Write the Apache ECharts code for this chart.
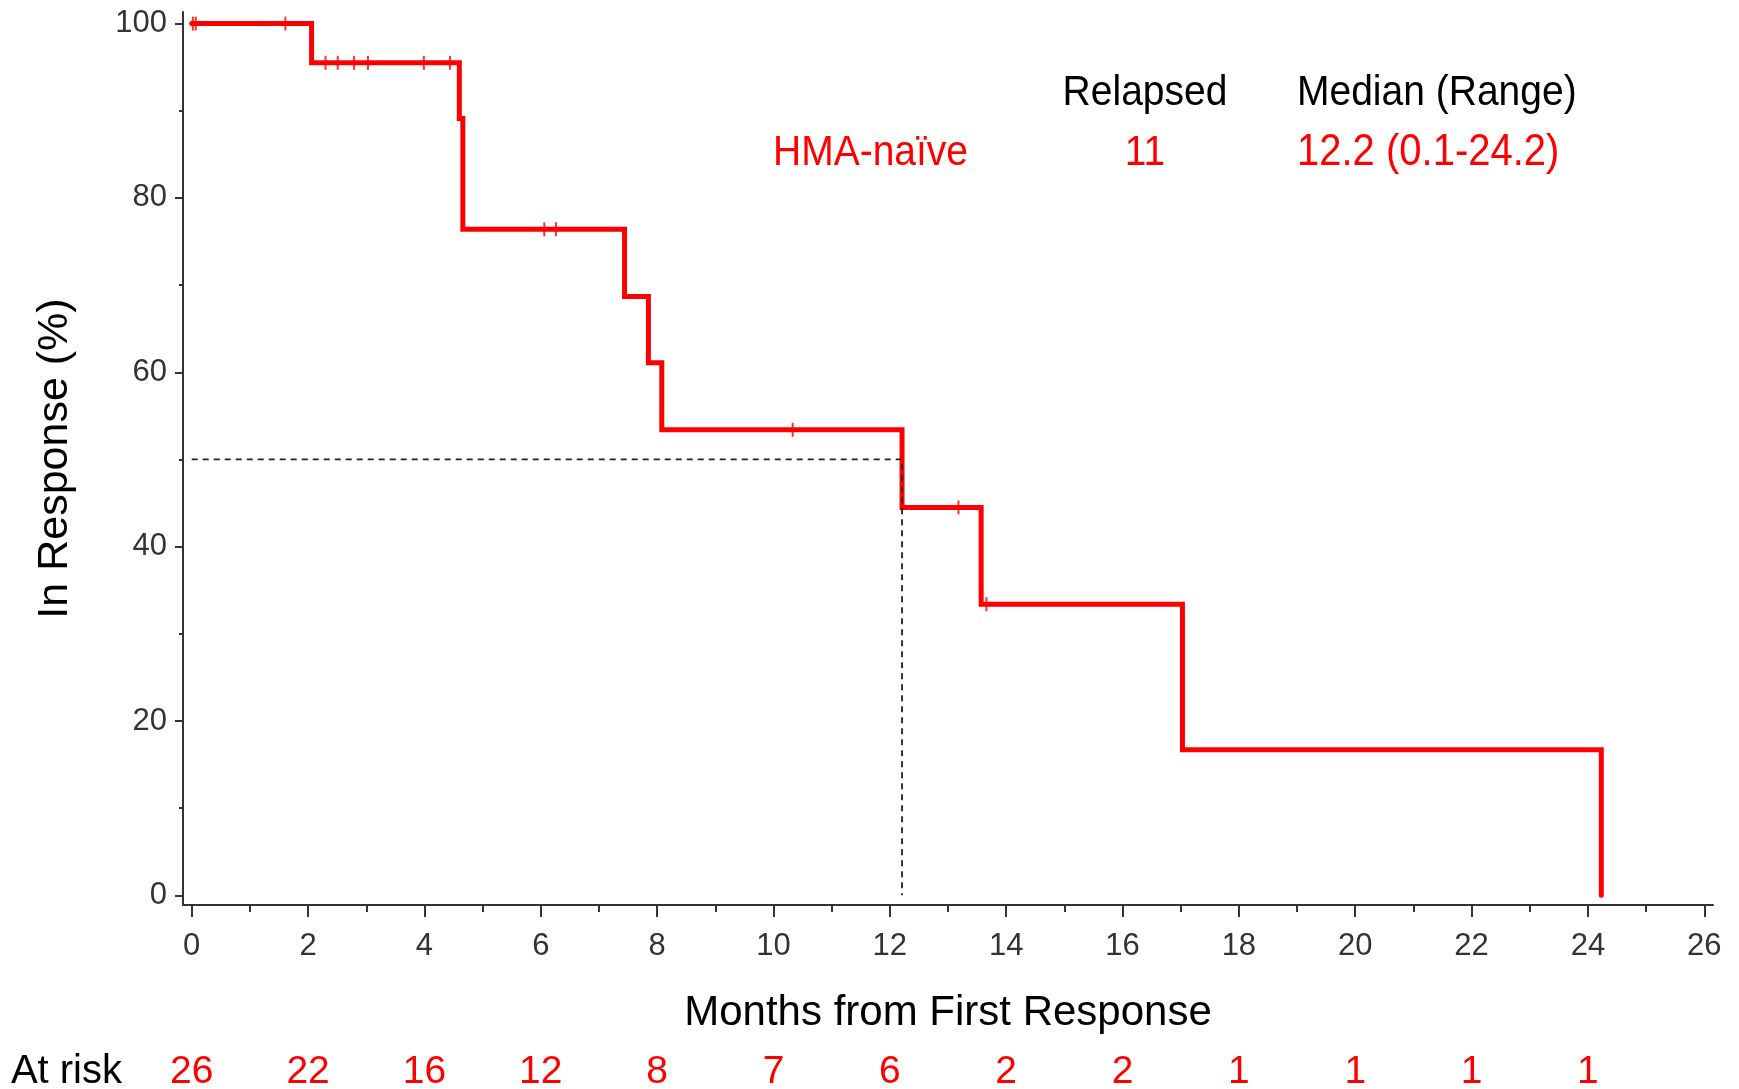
<!DOCTYPE html>
<html><head><meta charset="utf-8">
<script src="https://cdn.jsdelivr.net/npm/echarts@6/dist/echarts.min.js"></script>
<style>html,body{margin:0;padding:0;background:#fff}#c{width:1739px;height:1089px}</style>
</head><body><div id="c"></div>
<script>
// ---- data ----
const stepTimes = [0, 2.06, 4.60, 4.66, 7.44, 7.85, 8.08, 12.21, 13.57, 17.03, 24.23];
const stepSurv  = [100, 95.5, 89.1, 76.4, 68.7, 61.1, 53.4, 44.5, 33.4, 16.7, 0];
const censorTimes = [0.02, 0.07, 1.61, 2.30, 2.51, 2.79, 3.03, 3.99, 4.44, 6.06, 6.26, 10.33, 13.18, 13.66];
const censorSurv  = [100, 100, 100, 95.5, 95.5, 95.5, 95.5, 95.5, 95.5, 76.4, 76.4, 53.4, 44.5, 33.4];
const medianTime = 12.21;
const medianLevel = 50;
const xMajorTicks = [0, 2, 4, 6, 8, 10, 12, 14, 16, 18, 20, 22, 24, 26];
const xMinorTicks = [1, 3, 5, 7, 9, 11, 13, 15, 17, 19, 21, 23, 25];
const yMajorTicks = [0, 20, 40, 60, 80, 100];
const yMinorTicks = [10, 30, 50, 70, 90];
const atRiskTimes  = [0, 2, 4, 6, 8, 10, 12, 14, 16, 18, 20, 22, 24];
const atRiskCounts = [26, 22, 16, 12, 8, 7, 6, 2, 2, 1, 1, 1, 1];
const tableHeaders = ['Relapsed', 'Median (Range)'];
const groupName = 'HMA-naïve';
const groupRelapsed = '11';
const groupMedian = '12.2 (0.1-24.2)';
const xTitle = 'Months from First Response';
const yTitle = 'In Response (%)';
const atRiskTitle = 'At risk';

// ---- chart ----
const FONT = "'Liberation Sans', Arial, sans-serif";
const RED = '#ff0000';
const AX = '#333333';
const chart = echarts.init(document.getElementById('c'), null, {renderer: 'canvas'});

const stepData = stepTimes.map((t, i) => [t, stepSurv[i]]);
const censorData = censorTimes.map((t, i) => [t, censorSurv[i]]);
const medianData = [[0, medianLevel], [medianTime, medianLevel], [medianTime, 0]];

chart.setOption({
  animation: false,
  backgroundColor: '#fff',
  grid: {left: 183, right: 26, top: 12, bottom: 184, containLabel: false, outerBoundsMode: 'none'},
  xAxis: [
    {
      type: 'value', position: 'bottom', min: -0.15, max: 26.15,
      axisLine: {show: true, onZero: false, lineStyle: {color: AX, width: 2}},
      axisTick: {show: true, inside: false, length: 12, lineStyle: {color: AX, width: 2}, customValues: xMajorTicks},
      axisLabel: {show: true, customValues: xMajorTicks, margin: 26, color: AX, fontFamily: FONT, fontSize: 31},
      splitLine: {show: false},
      name: xTitle, nameLocation: 'middle', nameGap: 87,
      nameTextStyle: {color: '#000', fontFamily: FONT, fontSize: 42}
    },
    {
      type: 'value', position: 'bottom', min: -0.15, max: 26.15,
      axisLine: {show: false, onZero: false},
      axisTick: {show: true, inside: false, length: 7, lineStyle: {color: AX, width: 2}, customValues: xMinorTicks},
      axisLabel: {show: false}, splitLine: {show: false}
    },
    {
      type: 'value', position: 'bottom', min: -0.15, max: 26.15, offset: 167,
      axisLine: {show: false, onZero: false},
      axisTick: {show: false},
      axisLabel: {
        show: true, customValues: atRiskTimes, margin: 0, verticalAlign: 'middle',
        color: RED, fontFamily: FONT, fontSize: 39,
        formatter: v => String(atRiskCounts[atRiskTimes.indexOf(v)])
      },
      splitLine: {show: false},
      name: atRiskTitle, nameLocation: 'start', nameGap: 61,
      nameTextStyle: {color: '#000', fontFamily: FONT, fontSize: 40, verticalAlign: 'middle'}
    }
  ],
  yAxis: [
    {
      type: 'value', position: 'left', min: -1.11, max: 101.33,
      axisLine: {show: true, onZero: false, lineStyle: {color: AX, width: 2}},
      axisTick: {show: true, inside: false, length: 8, lineStyle: {color: AX, width: 2}, customValues: yMajorTicks},
      axisLabel: {show: true, customValues: yMajorTicks, margin: 16, color: AX, fontFamily: FONT, fontSize: 31},
      splitLine: {show: false},
      name: yTitle, nameLocation: 'middle', nameGap: 106, nameRotate: 90,
      nameTextStyle: {color: '#000', fontFamily: FONT, fontSize: 43}
    },
    {
      type: 'value', position: 'left', min: -1.11, max: 101.33,
      axisLine: {show: false, onZero: false},
      axisTick: {show: true, inside: false, length: 4, lineStyle: {color: AX, width: 2}, customValues: yMinorTicks},
      axisLabel: {show: false}, splitLine: {show: false}
    }
  ],
  series: [
    {
      type: 'line', xAxisIndex: 0, yAxisIndex: 0, step: 'end', data: stepData,
      showSymbol: false, symbol: 'none', z: 3,
      lineStyle: {color: RED, width: 5, join: 'miter', cap: 'round'}
    },
    {
      type: 'scatter', xAxisIndex: 0, yAxisIndex: 0, data: censorData,
      symbol: 'rect', symbolSize: [2, 14], z: 4,
      itemStyle: {color: RED}
    },
    {
      type: 'line', xAxisIndex: 0, yAxisIndex: 0, data: medianData,
      showSymbol: false, symbol: 'none', z: 5,
      lineStyle: {color: '#222', width: 1.8, type: [6, 5]}
    }
  ],
  graphic: [
    {type: 'text', x: 1145, y: 93, scaleY: 1.1, style: {text: tableHeaders[0], align: 'center', verticalAlign: 'middle', fill: '#000', font: '39px ' + FONT}},
    {type: 'text', x: 1297, y: 93, scaleY: 1.1, style: {text: tableHeaders[1], align: 'left', verticalAlign: 'middle', fill: '#000', font: '39px ' + FONT}},
    {type: 'text', x: 773, y: 153, scaleY: 1.1, style: {text: groupName, align: 'left', verticalAlign: 'middle', fill: RED, font: '39px ' + FONT}},
    {type: 'text', x: 1145, y: 153, scaleY: 1.1, style: {text: groupRelapsed, align: 'center', verticalAlign: 'middle', fill: RED, font: '39px ' + FONT}},
    {type: 'text', x: 1297, y: 153, scaleY: 1.1, style: {text: groupMedian, align: 'left', verticalAlign: 'middle', fill: RED, font: '40px ' + FONT}}
  ]
});
</script>
</body></html>
